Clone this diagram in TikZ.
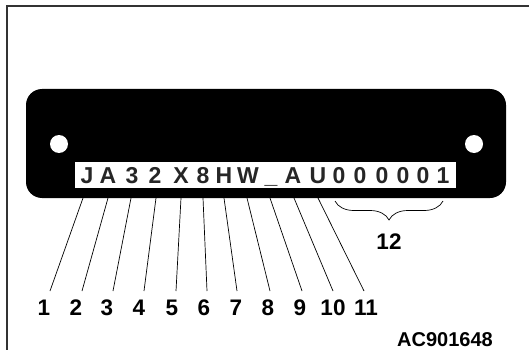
\documentclass[tikz,border=0pt]{standalone}
\usepackage{fontspec}
\setmainfont{Liberation Sans}
\usetikzlibrary{decorations.pathreplacing}
\begin{document}
\begin{tikzpicture}[x=1pt,y=-1pt,
  frameline/.style={draw=black!80,line width=1.4pt},
  plate/.style={fill=black,rounded corners=16pt},
  hole/.style={fill=white},
  platechar/.style={anchor=base,inner sep=0pt,text=black!85,font=\fontsize{23}{26}\selectfont\bfseries},
  numlabel/.style={anchor=base,inner sep=0pt,font=\fontsize{22.5}{26}\selectfont\bfseries},
  leader/.style={draw=black,line width=0.7pt},
  bracestyle/.style={draw=black,line width=0.7pt,decorate,decoration={brace,amplitude=19pt,aspect=0.5}}]
\useasboundingbox (0,0) rectangle (529,350);
% frame
\coordinate (fa) at (529,6);
\coordinate (fb) at (7,6);
\coordinate (fc) at (7,350);
\draw[frameline] (fa) -- (fb) -- (fc);
% plate
\path[plate] (26,89) rectangle (506,198);
\path[hole] (59,144) circle (9);
\path[hole] (474,144) circle (9);
\path[fill=white] (75,162) rectangle (456,188);
% characters
\foreach \c/\x [count=\i] in {J/87,A/108,3/132,2/155,X/181,8/203,H/224,W/248,\_/271,A/293,U/318,0/339,0/360,0/382,0/403,0/423,1/443}{
  \node[platechar] (c\i) at (\x,183.5) {\c};
}
% leaders and labels
\foreach \tx/\bx/\lx [count=\i] in {83/50/44,108/82/76,131/113/107,156/144/139,181/176/172,203/207/204,224/237/236,247/270/268,270/302/300,294/333/333,318/364/366}{
  \coordinate (t\i) at (\tx,198);
  \coordinate (b\i) at (\bx,291);
  \node[numlabel] (l\i) at (\lx,315) {\i};
  \draw[leader] (t\i) -- (b\i);
}
% brace
\coordinate (br1) at (443,201);
\coordinate (br2) at (335,201);
\draw[bracestyle] (br1) -- (br2);
\node[numlabel] (l12) at (389,249) {12};
% code
\node[anchor=base east,inner sep=0pt,font=\fontsize{20}{24}\selectfont\bfseries] (code) at (493,346) {AC901648};
\end{tikzpicture}
\end{document}
